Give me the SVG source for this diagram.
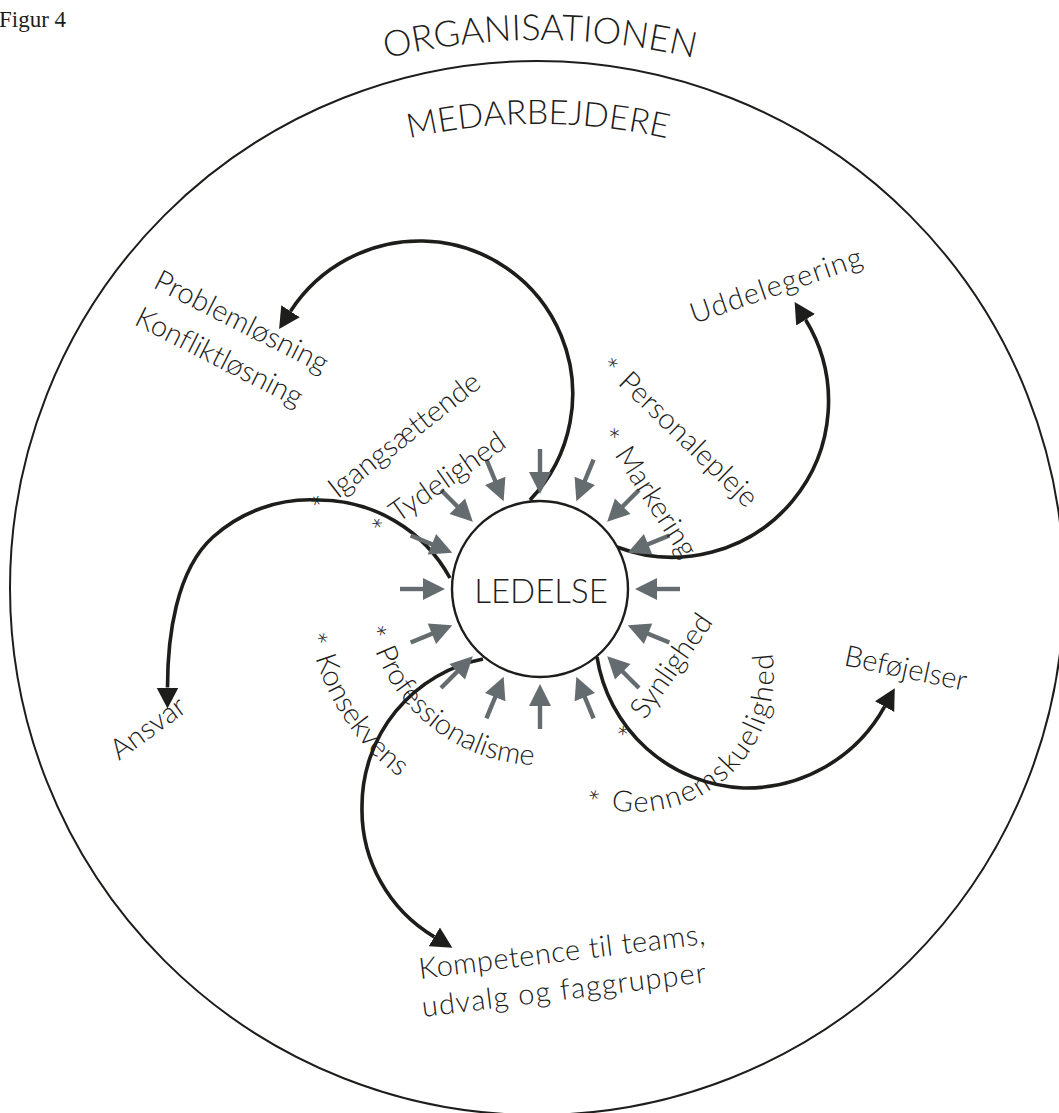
<svg xmlns="http://www.w3.org/2000/svg" width="1059" height="1113" viewBox="0 0 1059 1113">
<style>
.t{font-family:Lato,"Open Sans","Liberation Sans",sans-serif;fill:#1d1d1b;font-weight:300;font-variant-ligatures:none}
.lbl{font-size:29px}
.ast{font-size:32px}
.fig{font-family:"Liberation Serif",serif;font-size:23px;fill:#1d1d1b}
.ring{fill:none;stroke:#1d1d1b;stroke-width:2}
.core{fill:#fff;stroke:#1d1d1b;stroke-width:2.4}
.flow{fill:none;stroke:#1d1d1b;stroke-width:3.6;marker-end:url(#ah)}
.ga{fill:#656c70}
</style>
<defs>
<marker id="ah" markerUnits="userSpaceOnUse" viewBox="0 -12 23 24" refX="0" refY="0" markerWidth="23" markerHeight="24" orient="auto"><path d="M0,-11 L21,0 L0,11 Z" fill="#1d1d1b"/></marker>
<g id="ga"><rect x="20" y="-2.2" width="25" height="4.4"/><path d="M0,0 L22,-11 L22,11 Z"/></g>
<path id="pOrg" d="M211,128.2 A658,658 0 0,1 869,128.2"/>
<path id="pMed" d="M246.5,202 A583,583 0 0,1 829.5,202"/>
<path id="pProf" d="M365.7,613.5 A176,176 0 0,0 600.2,754.4"/>
<path id="pKons" d="M307.3,621.7 A235,235 0 0,0 499.2,820.4"/>
<path id="pGenn" d="M571.2,795.8 A138,138 0 0,0 741.7,585.3"/>
</defs>

<rect width="1059" height="1113" fill="#fff"/>

<g id="figur"><text class="fig" x="-1" y="27">Figur 4</text></g>

<g id="organisationen">
<circle class="ring" cx="537" cy="588" r="527"/>
<text class="t" font-size="36"><textPath href="#pOrg" startOffset="50%" text-anchor="middle">ORGANISATIONEN</textPath></text>
</g>
<g id="medarbejdere"><text class="t" font-size="34"><textPath href="#pMed" startOffset="50%" text-anchor="middle">MEDARBEJDERE</textPath></text></g>

<g id="connectors">
<g id="flows">
<path class="flow" d="M530,500 A153,153 0 0,0 423,241 A154,154 0 0,0 290.5,311.3"/>
<path class="flow" d="M617,547 A156,156 0 0,0 805.6,319.8"/>
<path class="flow" d="M450,578 A150,150 0 0,0 317,500 A145,145 0 0,0 213,537 C175.8,570.4 167.5,637.5 167.5,687.5"/>
<path class="flow" d="M483,659 A150,150 0 0,0 362,807 A148,148 0 0,0 434.3,936.9"/>
<path class="flow" d="M597,657 A155,155 0 0,0 743,788 A158,158 0 0,0 884.6,706.6"/>
</g>
<g id="inward-arrows" class="ga">
<use href="#ga" transform="rotate(0 540 589) translate(635 589)"/>
<use href="#ga" transform="rotate(22.5 540 589) translate(635 589)"/>
<use href="#ga" transform="rotate(45 540 589) translate(635 589)"/>
<use href="#ga" transform="rotate(67.5 540 589) translate(635 589)"/>
<use href="#ga" transform="rotate(90 540 589) translate(635 589)"/>
<use href="#ga" transform="rotate(112.5 540 589) translate(635 589)"/>
<use href="#ga" transform="rotate(135 540 589) translate(635 589)"/>
<use href="#ga" transform="rotate(157.5 540 589) translate(635 589)"/>
<use href="#ga" transform="rotate(180 540 589) translate(635 589)"/>
<use href="#ga" transform="rotate(202.5 540 589) translate(635 589)"/>
<use href="#ga" transform="rotate(225 540 589) translate(635 589)"/>
<use href="#ga" transform="rotate(247.5 540 589) translate(635 589)"/>
<use href="#ga" transform="rotate(270 540 589) translate(635 589)"/>
<use href="#ga" transform="rotate(292.5 540 589) translate(635 589)"/>
<use href="#ga" transform="rotate(315 540 589) translate(635 589)"/>
<use href="#ga" transform="rotate(337.5 540 589) translate(635 589)"/>
</g>
</g>

<g id="ledelse">
<circle class="core" cx="540" cy="589" r="88"/>
<text class="t" font-size="33" x="541" y="603" text-anchor="middle">LEDELSE</text>
</g>

<g id="problemloesning"><text class="t lbl" transform="translate(152,287) rotate(27)">Problemløsning</text>
<text class="t lbl" transform="translate(133,324) rotate(27)">Konfliktløsning</text></g>
<g id="uddelegering"><text class="t lbl" transform="translate(694,324) rotate(-19)" textLength="180">Uddelegering</text></g>
<g id="ansvar"><text class="t lbl" transform="translate(119,761) rotate(-36)">Ansvar</text></g>
<g id="befoejelser"><text class="t lbl" transform="translate(843,665) rotate(12)">Beføjelser</text></g>
<g id="kompetence"><text class="t lbl" transform="translate(420,979) rotate(-7)" textLength="288">Kompetence til teams,</text>
<text class="t lbl" transform="translate(423,1017) rotate(-7)" textLength="286">udvalg og faggrupper</text></g>

<g id="igangsaettende"><text class="t lbl" transform="translate(318.4,514.3) rotate(-38)"><tspan class="ast" dy="7">*</tspan><tspan dy="-7" dx="3"> Igangsættende</tspan></text></g>
<g id="tydelighed"><text class="t lbl" transform="translate(378.6,536.9) rotate(-35)"><tspan class="ast" dy="7">*</tspan><tspan dy="-7" dx="3"> Tydelighed</tspan></text></g>
<g id="personalepleje"><text class="t lbl" transform="translate(599.5,366.8) rotate(44)"><tspan class="ast" dy="7">*</tspan><tspan dy="-7" dx="3"> Personalepleje</tspan></text></g>
<g id="markering"><text class="t lbl" transform="translate(600.6,433.9) rotate(57)"><tspan class="ast" dy="7">*</tspan><tspan dy="-7" dx="3"> Markering</tspan></text></g>
<g id="synlighed"><text class="t lbl" transform="translate(629,743) rotate(-55)"><tspan class="ast" dy="7">*</tspan><tspan dy="-7" dx="6"> Synlighed</tspan></text></g>
<g id="gennemskuelighed"><text class="t lbl" font-size="30" textLength="290"><textPath href="#pGenn" startOffset="14.7"><tspan class="ast" dy="9">*</tspan><tspan dy="-9" dx="3"> Gennemskuelighed</tspan></textPath></text></g>
<g id="konsekvens"><text class="t lbl"><textPath href="#pKons" startOffset="12.5"><tspan class="ast" dy="7">*</tspan><tspan dy="-7" dx="3"> Konsekvens</tspan></textPath></text></g>
<g id="professionalisme"><text class="t lbl"><textPath href="#pProf" startOffset="14"><tspan class="ast" dy="7">*</tspan><tspan dy="-7" dx="3"> Professionalisme</tspan></textPath></text></g>
</svg>
